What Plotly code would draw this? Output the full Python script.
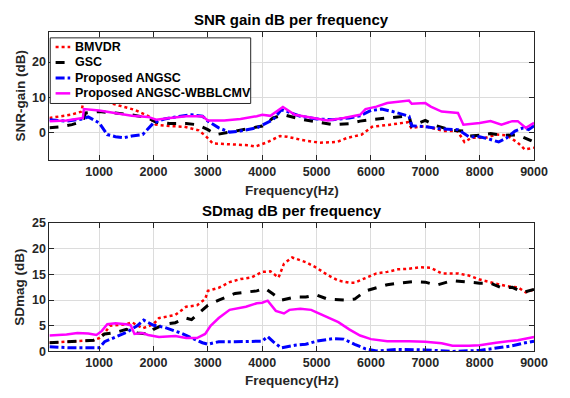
import plotly.graph_objects as go

W, H = 570, 398

# ---- SNR gain (dB) per frequency ----
snr_bmvdr_f = [86, 480, 675, 706, 870, 1130, 1390, 1650, 1910, 2040, 2300, 2570, 2830, 2960,
               3090, 3410, 3740, 3870, 4070, 4330, 4460, 4720, 5050, 5370, 5570, 5830, 6020,
               6350, 6680, 6740, 7000, 7330, 7590, 7720, 7850, 8110, 8310, 8500, 8700, 8830, 9000]
snr_bmvdr = [4.2, 5.1, 6.0, 8.6, 8.8, 8.7, 7.6, 6.5, 4.7, 2.3, 1.9, 1.7, 0.7, -0.9,
             -3.0, -3.3, -3.5, -3.9, -2.8, -0.9, -1.1, -2.0, -2.8, -2.6, -1.4, -0.5, 1.7,
             2.3, 3.0, 1.4, 1.9, 0.5, 0.5, -2.6, -1.4, -1.4, -0.5, -0.7, -2.8, -4.7, -4.2]

snr_gsc_f = [86, 300, 500, 700, 750, 1000, 1300, 1600, 1900, 2050, 2300, 2600, 2800, 3000,
             3150, 3400, 3700, 4000, 4200, 4400, 4700, 5000, 5300, 5600, 5800, 6000, 6300,
             6600, 6700, 6750, 7000, 7200, 7500, 7700, 7800, 8000, 8200, 8400, 8700, 8900, 9000]
snr_gsc = [1.4, 1.7, 2.3, 3.3, 5.6, 6.0, 5.6, 5.1, 4.2, 3.0, 2.6, 2.6, 2.3, 0.9,
           -0.5, 0.2, 0.9, 1.9, 4.2, 5.1, 3.9, 3.0, 2.3, 2.6, 3.3, 3.7, 4.2,
           4.7, 4.8, 1.9, 3.5, 2.0, 0.7, 0.5, -0.9, -0.7, -0.2, -0.7, -0.6, -1.9, -2.6]

snr_angsc_f = [86, 400, 700, 800, 1000, 1150, 1300, 1450, 1600, 1800, 2000, 2200, 2500, 2700,
               2900, 3000, 3200, 3400, 3600, 3900, 4200, 4350, 4500, 4700, 5000, 5300, 5600,
               5800, 6000, 6200, 6400, 6600, 6700, 6750, 7000, 7300, 7600, 7800, 8000, 8200,
               8350, 8500, 8650, 8800, 8900, 9000]
snr_angsc = [3.7, 3.3, 3.9, 4.5, 2.8, -0.5, -1.1, -1.4, -0.9, -0.5, 2.8, 3.9, 4.7, 5.1,
             4.7, 3.3, 1.4, 0.2, 0.5, 1.4, 3.7, 6.5, 5.8, 4.7, 3.9, 3.7, 4.2,
             4.8, 6.3, 6.7, 6.0, 5.1, 4.7, 2.0, 1.7, 1.1, 0.9, -1.1, -1.1, -1.9,
             -2.6, -1.4, 0.5, 1.4, 0.9, 2.0]

snr_wbb_f = [86, 400, 700, 720, 1000, 1300, 1600, 1900, 2050, 2300, 2600, 2900, 3000, 3300,
             3600, 3900, 4000, 4150, 4380, 4600, 4900, 5200, 5500, 5800, 5900, 6100, 6300,
             6600, 6700, 6750, 7000, 7100, 7300, 7600, 7700, 8000, 8200, 8400, 8600, 8700,
             8850, 9000]
snr_wbb = [3.3, 3.5, 4.2, 6.7, 6.3, 5.6, 4.8, 4.5, 3.7, 4.2, 4.7, 4.7, 3.5, 3.5,
           3.9, 4.7, 5.1, 4.8, 7.3, 5.1, 4.2, 3.5, 4.2, 5.1, 6.7, 7.4, 8.4,
           9.0, 9.1, 8.2, 8.4, 7.4, 6.0, 5.6, 2.3, 2.8, 3.3, 2.3, 3.3, 3.3,
           1.4, 2.8]

# ---- SDmag (dB) per frequency ----
sd_bmvdr_f = [86, 500, 900, 1000, 1100, 1200, 1500, 1600, 1800, 2000, 2100, 2400, 2600, 2800,
              2950, 3000, 3200, 3400, 3600, 3800, 4000, 4150, 4300, 4400, 4550, 4800, 5000,
              5200, 5400, 5600, 5700, 5900, 6100, 6300, 6500, 6700, 6900, 7100, 7300, 7600,
              7800, 8000, 8300, 8500, 8700, 8850, 9000]
sd_bmvdr = [1.7, 2.0, 2.2, 2.6, 3.6, 5.0, 5.3, 5.7, 4.5, 5.3, 6.5, 7.1, 8.7, 9.0,
            10.2, 11.8, 12.4, 13.5, 14.1, 14.4, 15.5, 15.6, 14.4, 17.1, 18.3, 17.4, 16.3,
            14.9, 13.8, 13.4, 13.4, 14.3, 15.2, 15.5, 16.0, 16.1, 16.4, 16.3, 15.2, 15.2,
            14.8, 14.0, 13.3, 12.7, 12.5, 11.5, 12.1]

sd_gsc_f = [86, 500, 900, 1000, 1100, 1300, 1500, 1700, 1900, 2000, 2200, 2400, 2600, 2700,
            2800, 3000, 3200, 3500, 3900, 4050, 4200, 4350, 4600, 4800, 5000, 5200, 5500,
            5700, 5900, 6100, 6300, 6500, 6800, 7000, 7200, 7500, 7800, 8000, 8200, 8400,
            8600, 8800, 9000]
sd_gsc = [1.7, 2.0, 2.2, 2.6, 3.4, 3.7, 4.3, 3.6, 3.4, 4.3, 5.3, 5.6, 6.5, 6.2,
          7.1, 9.0, 10.0, 11.3, 11.8, 12.3, 11.2, 10.0, 10.6, 10.6, 11.0, 10.2, 10.0,
          10.2, 11.8, 12.4, 13.0, 13.3, 13.6, 13.5, 12.9, 13.8, 13.5, 13.3, 13.3, 12.4,
          12.5, 11.5, 12.1]

sd_angsc_f = [86, 500, 1000, 1100, 1300, 1500, 1700, 1820, 2000, 2200, 2500, 2700, 2900, 3000,
              3200, 3500, 4000, 4100, 4200, 4350, 4600, 4800, 5000, 5300, 5500, 5700, 5900,
              6100, 6500, 7000, 7500, 8000, 8300, 8600, 8800, 9000]
sd_angsc = [0.9, 0.7, 0.7, 1.9, 2.8, 3.7, 5.0, 6.1, 5.1, 4.7, 3.6, 2.6, 1.7, 1.4,
            1.9, 1.9, 2.0, 2.9, 1.9, 0.7, 1.2, 1.4, 2.0, 2.5, 2.4, 1.4, 0.5,
            0.1, 0.4, 0.3, 0.0, 0.2, 0.7, 1.1, 1.6, 2.0]

sd_wbb_f = [86, 400, 600, 800, 950, 1050, 1150, 1300, 1500, 1580, 1650, 1800, 1900, 2100,
            2400, 2600, 2800, 2950, 3050, 3200, 3400, 3700, 3900, 4000, 4100, 4250, 4400,
            4500, 4700, 4900, 5000, 5200, 5400, 5600, 5800, 6000, 6300, 6700, 7000, 7300,
            7500, 7800, 8000, 8300, 8500, 8700, 9000]
sd_wbb = [3.1, 3.3, 3.6, 3.5, 3.2, 4.0, 5.3, 5.5, 5.3, 5.1, 3.4, 3.6, 3.2, 2.8,
          3.0, 2.6, 2.6, 3.4, 5.0, 6.5, 8.1, 8.7, 9.4, 9.5, 9.9, 7.9, 7.4,
          8.1, 8.3, 8.1, 7.6, 6.7, 5.7, 4.3, 3.1, 2.4, 2.0, 2.0, 1.9, 1.6,
          1.1, 1.1, 1.2, 1.7, 2.0, 2.2, 2.8]

names = ["BMVDR", "GSC", "Proposed ANGSC", "Proposed ANGSC-WBBLCMV"]
styles = [
    dict(color="#ff0000", width=2.5, dash="dot"),
    dict(color="#000000", width=3, dash="dash"),
    dict(color="#0000ff", width=3, dash="dashdot"),
    dict(color="#ff00ff", width=2.5, dash="solid"),
]

top = [(snr_bmvdr_f, snr_bmvdr), (snr_gsc_f, snr_gsc), (snr_angsc_f, snr_angsc), (snr_wbb_f, snr_wbb)]
bot = [(sd_bmvdr_f, sd_bmvdr), (sd_gsc_f, sd_gsc), (sd_angsc_f, sd_angsc), (sd_wbb_f, sd_wbb)]

fig = go.Figure()
for (fx, fy), name, st in zip(top, names, styles):
    fig.add_trace(go.Scatter(x=fx, y=fy, mode="lines", name=name, line=st,
                             xaxis="x", yaxis="y", showlegend=False))
for (fx, fy), name, st in zip(bot, names, styles):
    fig.add_trace(go.Scatter(x=fx, y=fy, mode="lines", name=name, line=st,
                             xaxis="x2", yaxis="y2", showlegend=False))

FONT = "Liberation Sans, Arial, sans-serif"
AX = "#262626"
GRID = "#dcdcdc"

x_left, x_right = 50.7, 547.5
top_y0, top_y1 = 25.5, 159.0
bot_y0, bot_y1 = 224.0, 357.0

xdom = [x_left / W, x_right / W]
common_x = dict(range=[86, 9000], tickvals=[1000, 2000, 3000, 4000, 5000, 6000, 7000, 8000, 9000],
                showgrid=True, gridcolor=GRID, gridwidth=1, zeroline=False,
                showline=True, linecolor=AX, linewidth=1, mirror="ticks",
                ticks="inside", ticklen=5, tickcolor=AX,
                tickfont=dict(family=FONT, size=12.5, color=AX, weight="bold"),
                domain=xdom)
common_y = dict(showgrid=True, gridcolor=GRID, gridwidth=1, zeroline=False,
                showline=True, linecolor=AX, linewidth=1, mirror="ticks",
                ticks="inside", ticklen=5, tickcolor=AX,
                tickfont=dict(family=FONT, size=12.5, color=AX, weight="bold"))

fig.update_layout(
    width=W, height=H,
    margin=dict(l=0, r=0, t=0, b=0),
    paper_bgcolor="white", plot_bgcolor="white",
    showlegend=False,
    xaxis=dict(common_x, anchor="y"),
    yaxis=dict(common_y, anchor="x", range=[-7.8, 28.6], tickvals=[0, 10, 20],
               domain=[1 - top_y1 / H, 1 - top_y0 / H]),
    xaxis2=dict(common_x, anchor="y2"),
    yaxis2=dict(common_y, anchor="x2", range=[0, 25], tickvals=[0, 5, 10, 15, 20, 25],
                domain=[1 - bot_y1 / H, 1 - bot_y0 / H]),
)

def px(xp):
    return xp / W

def py(yp):
    return 1 - yp / H

# Legend box drawn in the upper panel
lg_l, lg_r, lg_t, lg_b = 51.5, 257, 32, 100
fig.add_shape(type="rect", xref="paper", yref="paper",
              x0=px(lg_l), x1=px(lg_r), y0=py(lg_b), y1=py(lg_t),
              line=dict(color=AX, width=1), fillcolor="white", layer="above")
entry_y = [41.5, 57.5, 73.5, 89.5]
for name, st, ey in zip(names, styles, entry_y):
    fig.add_shape(type="line", xref="paper", yref="paper",
                  x0=px(57), x1=px(72), y0=py(ey), y1=py(ey),
                  line=dict(color=st["color"], width=st["width"], dash=st["dash"]),
                  layer="above")
    fig.add_annotation(text=name, x=px(75), y=py(ey), xref="paper", yref="paper",
                       showarrow=False, xanchor="left", yanchor="middle",
                       font=dict(family=FONT, size=12.5, color="#000000", weight="bold"))

cx = (x_left + x_right) / 2
texts = [
    ("SNR gain dB per frequency", cx, 13, 15, "#000000", 0),
    ("Frequency(Hz)", cx, 190, 13.5, AX, 0),
    ("SNR-gain (dB)", 20, (top_y0 + top_y1) / 2, 13.5, AX, -90),
    ("SDmag dB per frequency", cx, 211, 15, "#000000", 0),
    ("Frequency(Hz)", cx, 387, 13.5, AX, 0),
    ("SDmag (dB)", 20, (bot_y0 + bot_y1) / 2, 13.5, AX, -90),
]
for t, xp, yp, sz, col, ang in texts:
    fig.add_annotation(text=t, x=px(xp), y=py(yp), xref="paper", yref="paper",
                       showarrow=False, xanchor="center", yanchor="middle", textangle=ang,
                       font=dict(family=FONT, size=sz, color=col, weight="bold"))

fig.write_html("out.html")
